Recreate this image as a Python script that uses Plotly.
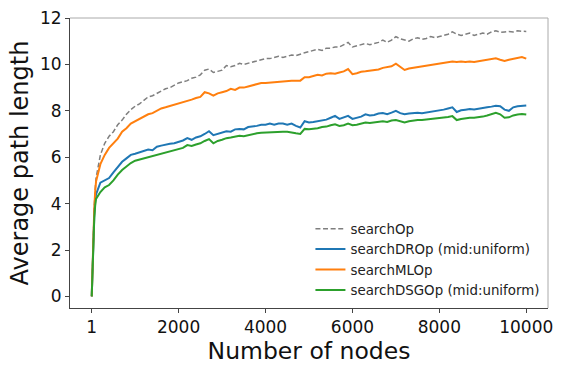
import plotly.graph_objects as go

nodes = [1, 20, 40, 60, 80] + list(range(100, 10001, 100))

search_op = [0, 1.5, 2.9, 3.9, 4.6,
    5.1, 6.1, 6.6, 6.9, 7.1, 7.4, 7.6, 7.85, 8.05, 8.2,
    8.3, 8.45, 8.6, 8.65, 8.75, 8.85, 8.95, 9.0, 9.1, 9.2,
    9.25, 9.3, 9.4, 9.45, 9.55, 9.75, 9.8, 9.65, 9.7, 9.75,
    9.95, 9.9, 9.95, 10.05, 10.0, 10.05, 10.1, 10.15, 10.2, 10.25,
    10.25, 10.3, 10.35, 10.3, 10.35, 10.4, 10.38, 10.45, 10.5, 10.55,
    10.6, 10.65, 10.6, 10.7, 10.7, 10.75, 10.75, 10.85, 10.95, 10.75,
    10.8, 10.85, 10.9, 10.85, 10.9, 10.95, 11.05, 10.95, 11.05, 11.2,
    11.1, 11.05, 11.0, 11.1, 11.15, 11.08, 11.12, 11.2, 11.15, 11.2,
    11.25, 11.3, 11.4, 11.3, 11.25, 11.3, 11.35, 11.25, 11.3, 11.35,
    11.3, 11.4, 11.45, 11.38, 11.4, 11.42, 11.4, 11.45, 11.43, 11.42]

search_drop = [0, 1.3, 2.6, 3.5, 4.1,
    4.4, 4.9, 5.0, 5.1, 5.35, 5.6, 5.8, 5.95, 6.1, 6.15,
    6.2, 6.25, 6.33, 6.3, 6.45, 6.5, 6.55, 6.58, 6.6, 6.65,
    6.72, 6.82, 6.75, 6.85, 6.9, 7.0, 7.12, 6.95, 7.0, 7.05,
    7.12, 7.1, 7.2, 7.22, 7.2, 7.3, 7.32, 7.35, 7.4, 7.4,
    7.45, 7.4, 7.45, 7.45, 7.4, 7.45, 7.35, 7.28, 7.55, 7.5,
    7.52, 7.55, 7.6, 7.62, 7.7, 7.78, 7.65, 7.7, 7.78, 7.65,
    7.7, 7.75, 7.85, 7.8, 7.82, 7.88, 7.9, 7.85, 7.92, 8.0,
    7.9, 7.85, 7.88, 7.9, 7.92, 7.9, 7.93, 7.95, 7.98, 8.0,
    8.05, 8.1, 8.15, 7.95, 8.02, 8.05, 8.08, 8.06, 8.1, 8.12,
    8.15, 8.18, 8.22, 8.2, 8.05, 8.0, 8.15, 8.2, 8.23, 8.23]

search_mlop = [0, 1.4, 2.8, 3.8, 4.5,
    4.95, 5.7, 6.1, 6.4, 6.6, 6.8, 7.1, 7.25, 7.45, 7.55,
    7.65, 7.75, 7.85, 7.9, 8.0, 8.1, 8.15, 8.2, 8.25, 8.3,
    8.35, 8.4, 8.48, 8.55, 8.6, 8.8, 8.75, 8.65, 8.75, 8.8,
    8.85, 8.95, 8.9, 9.0, 9.0, 9.05, 9.1, 9.15, 9.2, 9.2,
    9.22, 9.25, 9.25, 9.27, 9.28, 9.3, 9.3, 9.3, 9.45, 9.45,
    9.5, 9.55, 9.52, 9.6, 9.62, 9.6, 9.65, 9.7, 9.8, 9.58,
    9.62, 9.68, 9.7, 9.72, 9.75, 9.78, 9.85, 9.88, 9.92, 10.03,
    9.9, 9.76, 9.82, 9.85, 9.9, 9.92, 9.95, 9.97, 10.0, 10.03,
    10.05, 10.08, 10.12, 10.1, 10.12, 10.1, 10.12, 10.1, 10.13, 10.15,
    10.18, 10.22, 10.26, 10.2, 10.15, 10.2, 10.25, 10.3, 10.32, 10.25]

search_dsgop = [0, 1.3, 2.5, 3.4, 3.9,
    4.2, 4.5, 4.7, 4.8, 5.0, 5.25, 5.45, 5.6, 5.75, 5.85,
    5.9, 5.98, 6.03, 6.05, 6.1, 6.15, 6.2, 6.25, 6.3, 6.35,
    6.4, 6.52, 6.48, 6.55, 6.6, 6.7, 6.78, 6.6, 6.7, 6.75,
    6.82, 6.85, 6.88, 6.92, 6.9, 6.95, 7.0, 7.03, 7.05, 7.06,
    7.08, 7.1, 7.12, 7.1, 7.1, 7.08, 7.03, 7.0, 7.22, 7.2,
    7.22, 7.25, 7.3, 7.32, 7.38, 7.42, 7.35, 7.38, 7.45, 7.38,
    7.4, 7.45, 7.49, 7.47, 7.5, 7.52, 7.55, 7.52, 7.58, 7.6,
    7.55, 7.5, 7.55, 7.58, 7.6, 7.6, 7.62, 7.63, 7.65, 7.68,
    7.7, 7.73, 7.77, 7.6, 7.65, 7.68, 7.7, 7.7, 7.72, 7.75,
    7.8, 7.85, 7.91, 7.85, 7.7, 7.72, 7.8, 7.84, 7.86, 7.84]

series_names = ["searchOp", "searchDROp (mid:uniform)", "searchMLOp", "searchDSGOp (mid:uniform)"]
x_ticks = [1, 2000, 4000, 6000, 8000, 10000]
y_ticks = [0, 2, 4, 6, 8, 10, 12]

styles = [
    dict(color="#7f7f7f", width=1.5, dash="5px,2.6px"),
    dict(color="#1f77b4", width=2),
    dict(color="#ff7f0e", width=2),
    dict(color="#2ca02c", width=2),
]

fig = go.Figure()
for i, (name, vals) in enumerate(zip(series_names, [search_op, search_drop, search_mlop, search_dsgop])):
    fig.add_trace(go.Scatter(x=nodes, y=vals, mode="lines", name=name,
                             legendgroup=str(i), line=styles[i]))

font_family = "DejaVu Sans"
fig.update_layout(
    width=561, height=367,
    margin=dict(l=70, r=8, t=14, b=59),
    paper_bgcolor="white", plot_bgcolor="white",
    font=dict(family=font_family, color="#111"),
    showlegend=True,
    legend=dict(x=0.503, y=0.326, xanchor="left", yanchor="top",
                font=dict(family=font_family, size=13.4, color="#222"),
                bgcolor="rgba(0,0,0,0)", tracegroupgap=0),
    xaxis=dict(range=[-499, 10500], tickvals=x_ticks, ticktext=[str(v) for v in x_ticks],
               showgrid=False, zeroline=False, showline=True, linecolor="#444", linewidth=1,
               ticks="outside", ticklen=4, tickcolor="#444",
               tickfont=dict(size=17, family=font_family, color="#111"),
               title=dict(text="Number of nodes", font=dict(size=23.5, family=font_family, color="#111"),
                          standoff=2)),
    yaxis=dict(range=[-0.5, 12], tickvals=y_ticks,
               showgrid=False, zeroline=False, showline=True, linecolor="#444", linewidth=1,
               ticks="outside", ticklen=4, tickcolor="#444",
               tickfont=dict(size=17, family=font_family, color="#111"),
               title=dict(text="Average path length", font=dict(size=24, family=font_family, color="#111"),
                          standoff=4)),
    shapes=[
        dict(type="line", xref="paper", yref="paper", x0=0, x1=1, y0=1, y1=1,
             line=dict(color="#aaa", width=1)),
        dict(type="line", xref="paper", yref="paper", x0=1, x1=1, y0=0, y1=1,
             line=dict(color="#aaa", width=1)),
    ],
)

fig.write_html("out.html")
